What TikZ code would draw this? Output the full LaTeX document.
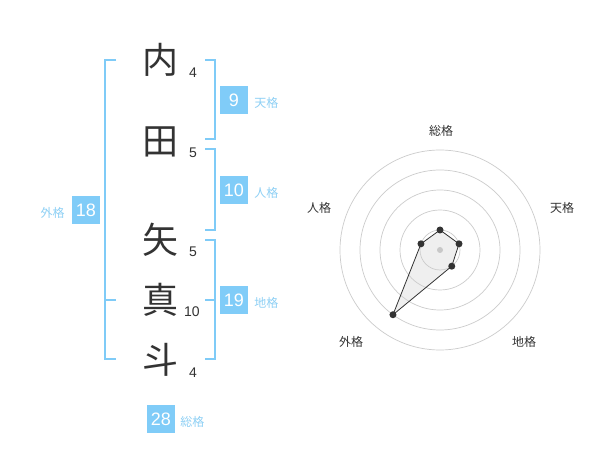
\documentclass[tikz,border=0pt]{standalone}
\usepackage{fontspec}
\setmainfont{Noto Sans CJK JP}
\newfontfamily\digitfont{Liberation Sans}
\usetikzlibrary{calc,positioning}
\definecolor{ink}{HTML}{333333}
\definecolor{bracket}{HTML}{7FCBF7}
\definecolor{boxfill}{HTML}{80CCF8}
\definecolor{labblue}{HTML}{8ED0F5}
\definecolor{ring}{HTML}{CCCCCC}
\definecolor{hub}{HTML}{C8C8C8}
\tikzset{
  kanji/.style={text=ink, font=\fontsize{36}{36}\selectfont, inner sep=0pt},
  strokes/.style={text=ink, font=\digitfont\fontsize{14}{14}\selectfont, inner sep=0pt},
  brk/.style={draw=bracket, line width=2pt},
  numbox/.style={fill=boxfill, text=white, minimum size=28pt, inner sep=0pt, font=\digitfont\fontsize{18}{18}\selectfont},
  kaku/.style={text=labblue, font=\fontsize{12}{12}\selectfont, inner sep=0pt},
  axislab/.style={text=ink, font=\fontsize{12}{12}\selectfont, inner sep=0pt},
  rings/.style={draw=ring, line width=0.7pt},
  pt/.style={circle, fill=ink, inner sep=0pt, minimum size=7pt},
}
\begin{document}
\begin{tikzpicture}[x=1pt, y=-1pt]
  \useasboundingbox[fill=white] (0,0) rectangle (600,470);

  % name characters and stroke counts
  \node[kanji] (k1) at (160,60)  {内};
  \node[kanji] (k2) at (160,142) {田};
  \node[kanji] (k3) at (160,240) {矢};
  \node[kanji] (k4) at (160,300) {真};
  \node[kanji] (k5) at (160,360) {斗};
  \node[strokes] (s1) at (193,73)  {4};
  \node[strokes] (s2) at (193,153) {5};
  \node[strokes] (s3) at (193,252) {5};
  \node[strokes] (s4) at (192,312) {10};
  \node[strokes] (s5) at (193,373) {4};

  % brackets
  \draw[brk] (116,60) -- (105,60) -- (105,359) -- (116,359);
  \draw[brk] (105,300) -- (116,300);
  \draw[brk] (205,60) -- (215,60) -- (215,139) -- (205,139);
  \draw[brk] (205,149) -- (215,149) -- (215,230) -- (205,230);
  \draw[brk] (205,240) -- (215,240) -- (215,359) -- (205,359);
  \draw[brk] (205,300) -- (215,300);

  % kaku boxes
  \node[numbox] (ten) at (234,100) {9};
  \node[numbox] (jin) at (234,190) {10};
  \node[numbox] (chi) at (234,300) {19};
  \node[numbox] (gai) at (86,210) {18};
  \node[numbox] (sou) at (161,419) {28};
  \node[kaku, right=6pt of ten, yshift=-3pt] (tenl) {天格};
  \node[kaku, right=6pt of jin, yshift=-3pt] (jinl) {人格};
  \node[kaku, right=6pt of chi, yshift=-3pt] (chil) {地格};
  \node[kaku, left=7pt of gai, yshift=-3pt] (gail) {外格};
  \node[kaku, right=5pt of sou, yshift=-3pt] (soul) {総格};

  % radar chart
  \coordinate (O) at (440,250);
  \coordinate (P1) at ($(O)+(90:20pt)$);
  \coordinate (P2) at ($(O)+(18:20pt)$);
  \coordinate (P3) at ($(O)+(-54:20pt)$);
  \coordinate (P4) at ($(O)+(-126:80pt)$);
  \coordinate (P5) at ($(O)+(162:20pt)$);
  \fill[gray, fill opacity=0.12] (P1) -- (P2) -- (P3) -- (P4) -- (P5) -- cycle;
  \foreach \r in {20,40,60,80,100}
    \draw[rings] (O) circle[radius=\r pt];
  \fill[hub] (O) circle[radius=3pt];
  \draw[ink, line width=0.8pt, line join=round] (P1) -- (P2) -- (P3) -- (P4) -- (P5) -- cycle;
  \foreach \p in {P1,P2,P3,P4,P5}
    \node[pt] at (\p) {};

  \node[axislab] (a1) at (441,131) {総格};
  \node[axislab] (a2) at (562,208) {天格};
  \node[axislab] (a3) at (524,342) {地格};
  \node[axislab] (a4) at (351,342) {外格};
  \node[axislab] (a5) at (319,208) {人格};

\end{tikzpicture}
\end{document}
